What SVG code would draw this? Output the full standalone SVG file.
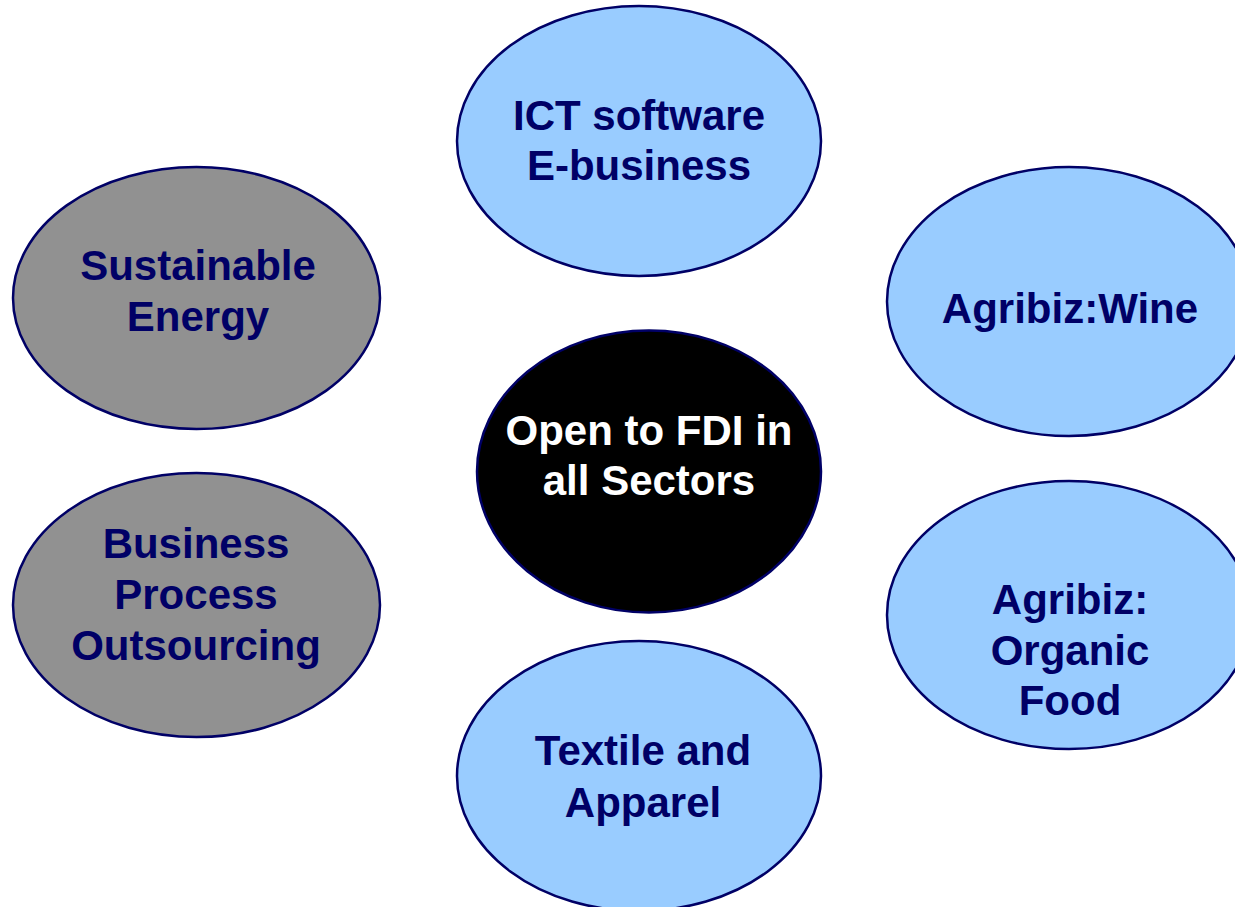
<svg xmlns="http://www.w3.org/2000/svg" width="1235" height="907" viewBox="0 0 1235 907">
  <style>
    .n { stroke: #000066; stroke-width: 2.5; }
    .blue { fill: #99CCFF; }
    .gray { fill: #919191; }
    .dark { fill: #000000; }
    text { font-family: "Liberation Sans", Arial, sans-serif; font-weight: bold; font-size: 42px; text-anchor: middle; fill: #000066; }
    .w { fill: #FFFFFF; }
  </style>
  <rect width="1235" height="907" fill="#FFFFFF"/>
  <g id="connectors"></g>
  <g id="ict">
    <ellipse class="n blue" cx="639" cy="141" rx="182" ry="135"/>
    <text x="639" y="130">ICT software</text>
    <text x="639" y="180">E-business</text>
  </g>
  <g id="sustainable-energy">
    <ellipse class="n gray" cx="196.5" cy="298" rx="183.5" ry="131"/>
    <text x="198" y="280">Sustainable</text>
    <text x="198" y="331">Energy</text>
  </g>
  <g id="agribiz-wine">
    <ellipse class="n blue" cx="1069" cy="301.5" rx="182" ry="134.5"/>
    <text x="1070" y="323">Agribiz:Wine</text>
  </g>
  <g id="center">
    <ellipse class="n dark" cx="649" cy="471.5" rx="172" ry="141"/>
    <text class="w" x="649" y="445">Open to FDI in</text>
    <text class="w" x="649" y="495">all Sectors</text>
  </g>
  <g id="bpo">
    <ellipse class="n gray" cx="196.5" cy="605" rx="183.5" ry="132"/>
    <text x="196" y="558">Business</text>
    <text x="196" y="609">Process</text>
    <text x="196" y="660">Outsourcing</text>
  </g>
  <g id="agribiz-organic">
    <ellipse class="n blue" cx="1069" cy="615" rx="182" ry="134"/>
    <text x="1070" y="614">Agribiz:</text>
    <text x="1070" y="665">Organic</text>
    <text x="1070" y="715">Food</text>
  </g>
  <g id="textile">
    <ellipse class="n blue" cx="639" cy="776" rx="182" ry="135"/>
    <text x="643" y="765">Textile and</text>
    <text x="643" y="817">Apparel</text>
  </g>
</svg>
